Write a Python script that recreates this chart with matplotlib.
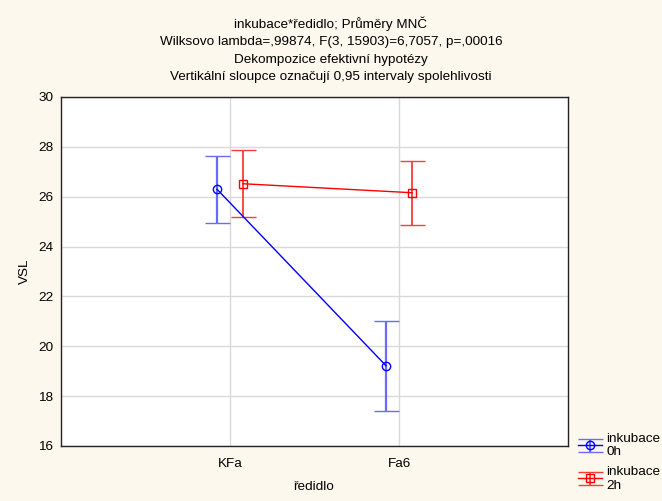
import numpy as np
import matplotlib.pyplot as plt

plt.rcParams['font.family'] = ['Liberation Sans', 'DejaVu Sans']

# LS means and 0.95 confidence half-widths
categories = ['KFa', 'Fa6']
means_0h = [26.30, 19.22]
ci_0h = [1.35, 1.81]
means_2h = [26.52, 26.16]
ci_2h = [1.35, 1.29]

bg = '#fdf8ee'
fig = plt.figure(figsize=(6.62, 5.01), dpi=100, facecolor=bg)
ax = fig.add_axes([0.0921, 0.1098, 0.766, 0.6966])

x = np.arange(len(categories))
off = 0.077

h0 = ax.errorbar(x - off, means_0h, yerr=ci_0h, color='blue', ecolor='#6a6aff',
                 elinewidth=1.6, capsize=9, capthick=1.2, lw=1.0,
                 marker='o', ms=6, mfc='none', mec='blue', mew=1.0)
h2 = ax.errorbar(x + off, means_2h, yerr=ci_2h, color='red', ecolor='#ff3a3a',
                 elinewidth=1.3, capsize=9, capthick=1.2, lw=1.0,
                 marker='s', ms=6, mfc='none', mec='red', mew=1.0)

ax.set_xlim(-1, 2)
ax.set_ylim(16, 30)
ax.set_xticks(x)
ax.set_xticklabels(categories)
ax.set_yticks(np.arange(16, 31, 2))
ax.tick_params(length=0, labelsize=9.7)
ax.tick_params(axis='x', pad=9)
ax.tick_params(axis='y', pad=5.5)
ax.grid(True, color='#d9d9d9', lw=1)
ax.set_axisbelow(True)
for s in ax.spines.values():
    s.set_color('#222222')
    s.set_linewidth(1.0)

ax.set_xlabel('ředidlo', fontsize=9.7, labelpad=7.5)
ax.set_ylabel('VSL', fontsize=9.7, labelpad=5.5)

title = ('inkubace*ředidlo; Průměry MNČ\n'
         'Wilksovo lambda=,99874, F(3, 15903)=6,7057, p=,00016\n'
         'Dekompozice efektivní hypotézy\n'
         'Vertikální sloupce označují 0,95 intervaly spolehlivosti')
fig.text(0.5, 0.968, title, ha='center', va='top', fontsize=9.7, linespacing=1.62)

leg = fig.legend([h0, h2], ['inkubace\n0h', 'inkubace\n2h'],
                 loc='lower left', bbox_to_anchor=(0.865, 0.008),
                 frameon=False, fontsize=9.7, handlelength=1.8,
                 handletextpad=0.3, labelspacing=0.55, borderaxespad=0)

fig.savefig('out.png', dpi=100, facecolor=bg)
